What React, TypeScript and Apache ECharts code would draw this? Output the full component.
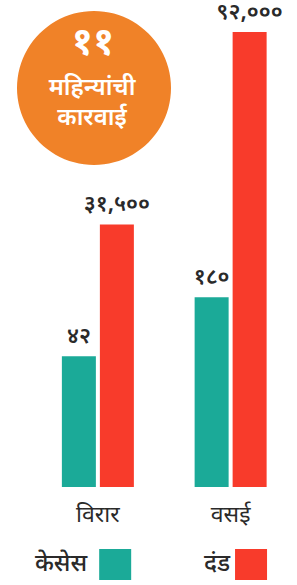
import React, { useEffect, useRef } from "react";
import * as echarts from "echarts";

const categories = ["विरार", "वसई"];
const casesValues = [42, 180];
const fineValues = [31500, 92000];
const seriesNames = ["केसेस", "दंड"];
const badgeNumber = 11;
const badgeLines = ["महिन्यांची", "कारवाई"];

const TEAL = "#1BAA98";
const RED = "#F83B2B";
const ORANGE = "#F08228";
const FONT = "'Noto Sans Devanagari', 'Noto Sans', 'Lohit Devanagari', sans-serif";

const devaDigits = "०१२३४५६७८९";
const toDeva = (v: number) =>
  v.toLocaleString("en-IN").replace(/[0-9]/g, (d) => devaDigits[Number(d)]);

const makeRender = (color: string, offset: number, barW: number) =>
  (params: any, api: any) => {
    const cat = api.value(0);
    const val = api.value(1);
    const top = api.coord([cat, val]);
    const cs = params.coordSys;
    const bottom = cs.y + cs.height;
    const cx = top[0] + offset;
    return {
      type: "group",
      children: [
        {
          type: "rect",
          shape: { x: cx - barW / 2, y: top[1], width: barW, height: bottom - top[1] },
          style: { fill: color },
        },
        {
          type: "text",
          x: cx,
          y: top[1] - 19,
          style: {
            text: toDeva(val),
            fill: "#2a2a2a",
            font: `600 22px ${FONT}`,
            textAlign: "center",
            textVerticalAlign: "middle",
          },
        },
      ],
    };
  };

export default function App() {
  const ref = useRef<HTMLDivElement>(null);
  useEffect(() => {
    if (!ref.current) return;
    const chart = echarts.init(ref.current, null, { renderer: "svg" });
    chart.setOption({
      animation: false,
      backgroundColor: "#ffffff",
      grid: { left: 31.5, top: 32, width: 274, height: 455 },
      xAxis: {
        type: "category",
        data: categories,
        axisLine: { show: false },
        axisTick: { show: false },
        axisLabel: {
          margin: 17,
          fontSize: 23,
          fontFamily: FONT,
          color: "#2a2a2a",
        },
      },
      yAxis: [
        { type: "value", min: -264, max: 800, show: false, splitLine: { show: false } },
        { type: "value", min: -51000, max: 92000, show: false, splitLine: { show: false } },
      ],
      legend: [
        {
          data: [seriesNames[0]],
          left: 30,
          top: 544,
          align: "right",
          icon: "rect",
          itemWidth: 32,
          itemHeight: 31,
          selectedMode: false,
          textStyle: { fontSize: 24, fontWeight: 500, fontFamily: FONT, color: "#2a2a2a", padding: [0, 7, 0, 0] },
        },
        {
          data: [seriesNames[1]],
          left: 199,
          top: 544,
          align: "right",
          icon: "rect",
          itemWidth: 32,
          itemHeight: 31,
          selectedMode: false,
          textStyle: { fontSize: 24, fontWeight: 500, fontFamily: FONT, color: "#2a2a2a" },
        },
      ],
      graphic: [
        {
          type: "circle",
          shape: { cx: 94, cy: 88, r: 77 },
          style: { fill: ORANGE },
        },
        {
          type: "text",
          x: 93,
          y: 45,
          style: {
            text: toDeva(badgeNumber),
            fill: "#ffffff",
            font: `bold 38px ${FONT}`,
            textAlign: "center",
            textVerticalAlign: "middle",
          },
        },
        {
          type: "text",
          x: 92,
          y: 89,
          style: {
            text: badgeLines[0],
            fill: "#ffffff",
            font: `600 24px ${FONT}`,
            textAlign: "center",
            textVerticalAlign: "middle",
          },
        },
        {
          type: "text",
          x: 92,
          y: 119,
          style: {
            text: badgeLines[1],
            fill: "#ffffff",
            font: `600 24px ${FONT}`,
            textAlign: "center",
            textVerticalAlign: "middle",
          },
        },
      ],
      series: [
        {
          name: seriesNames[0],
          type: "custom",
          yAxisIndex: 0,
          itemStyle: { color: TEAL },
          data: casesValues.map((v, i) => [i, v]),
          renderItem: makeRender(TEAL, -19, 34),
        },
        {
          name: seriesNames[1],
          type: "custom",
          yAxisIndex: 1,
          itemStyle: { color: RED },
          data: fineValues.map((v, i) => [i, v]),
          renderItem: makeRender(RED, 19, 34),
        },
      ],
    });
    return () => chart.dispose();
  }, []);
  return (
    <div
      ref={ref}
      style={{ position: "fixed", left: 0, top: 0, width: 297, height: 585 }}
    />
  );
}
